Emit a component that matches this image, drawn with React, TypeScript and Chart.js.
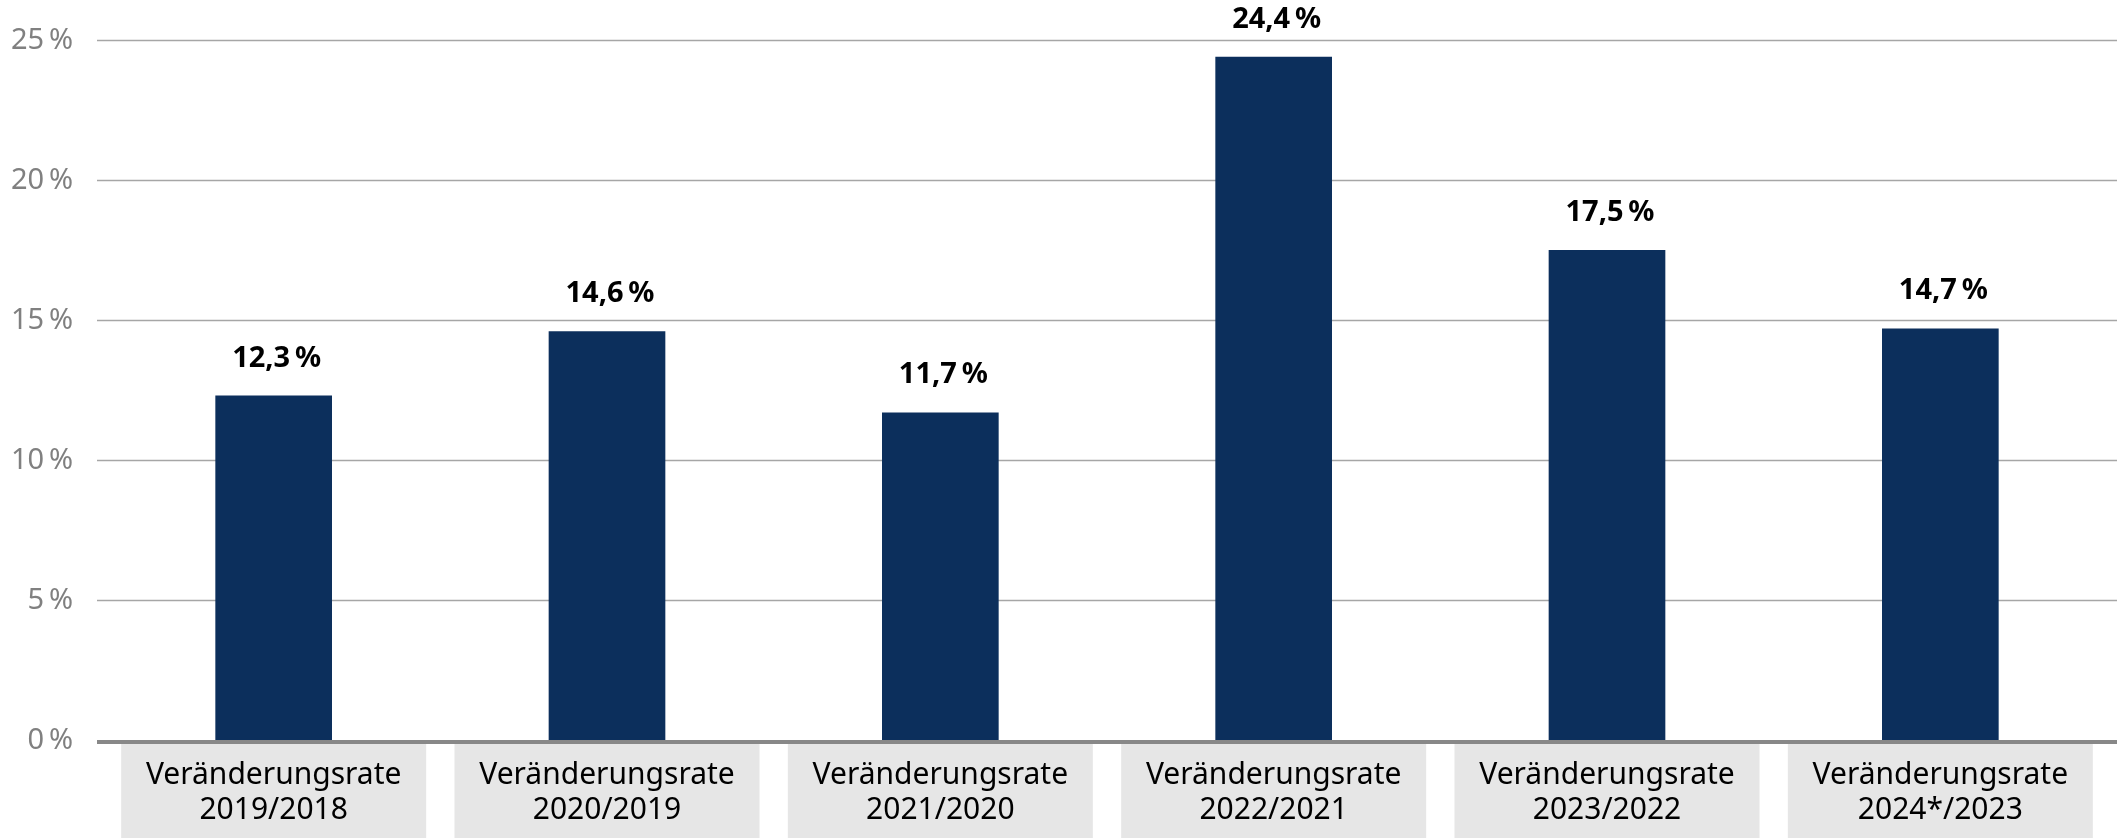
import React, { useEffect, useRef } from "react";
import { Chart, registerables } from "chart.js";

Chart.register(...registerables);

const categoriesLine1 = ["Veränderungsrate", "Veränderungsrate", "Veränderungsrate", "Veränderungsrate", "Veränderungsrate", "Veränderungsrate"];
const categoriesLine2 = ["2019/2018", "2020/2019", "2021/2020", "2022/2021", "2023/2022", "2024*/2023"];
const values = [12.3, 14.6, 11.7, 24.4, 17.5, 14.7];
const yTicks = [0, 5, 10, 15, 20, 25];

const FONT = "'Noto Sans', 'Open Sans', sans-serif";
const fmt = (v: number) => v.toFixed(1).replace(".", ",") + "\u2009%";

const customPlugin = {
  id: "custom",
  beforeDatasetsDraw(chart: any) {
    const { ctx, chartArea, scales } = chart;
    const y = scales.y;
    ctx.save();
    ctx.strokeStyle = "#a6a6a6";
    ctx.lineWidth = 1.5;
    yTicks.forEach((t) => {
      const py = y.getPixelForValue(t);
      if (t !== 0) {
        const ly = Math.round(py) + 0.5;
        ctx.beginPath();
        ctx.moveTo(chartArea.left - 10, ly);
        ctx.lineTo(chartArea.right + 10, ly);
        ctx.stroke();
      }
      ctx.fillStyle = "#808080";
      ctx.font = `29px ${FONT}`;
      ctx.textAlign = "right";
      ctx.textBaseline = "middle";
      ctx.fillText(`${t}\u2009%`, 73, py + 1);
    });
    ctx.restore();
  },
  afterDatasetsDraw(chart: any) {
    const { ctx, chartArea, scales } = chart;
    const x = scales.x;
    const y = scales.y;
    ctx.save();
    // axis line
    const py0 = y.getPixelForValue(0);
    ctx.strokeStyle = "#888888";
    ctx.lineWidth = 4;
    ctx.beginPath();
    ctx.moveTo(chartArea.left - 10, py0 + 2);
    ctx.lineTo(chartArea.right + 10, py0 + 2);
    ctx.stroke();
    // category boxes and labels
    const step = x.getPixelForValue(1) - x.getPixelForValue(0);
    const boxW = step * 0.915;
    categoriesLine2.forEach((_, i) => {
      const cx = x.getPixelForValue(i);
      ctx.fillStyle = "#e6e6e6";
      ctx.fillRect(cx - boxW / 2, py0 + 4, boxW, chart.height - (py0 + 4));
      ctx.fillStyle = "#000000";
      ctx.font = `30px ${FONT}`;
      ctx.textAlign = "center";
      ctx.textBaseline = "alphabetic";
      ctx.fillText(categoriesLine1[i], cx, py0 + 44);
      ctx.fillText(categoriesLine2[i], cx, py0 + 79);
    });
    // value labels
    ctx.font = `bold 29px ${FONT}`;
    ctx.fillStyle = "#000000";
    ctx.textAlign = "center";
    ctx.textBaseline = "alphabetic";
    values.forEach((v, i) => {
      const cx = x.getPixelForValue(i);
      const top = y.getPixelForValue(v);
      ctx.fillText(fmt(v), cx + 3, top - 29);
    });
    ctx.restore();
  },
};

export default function App() {
  const ref = useRef<HTMLCanvasElement | null>(null);
  useEffect(() => {
    if (!ref.current) return;
    const chart = new Chart(ref.current, {
      type: "bar",
      data: {
        labels: categoriesLine2,
        datasets: [
          {
            data: values,
            backgroundColor: "#0c2f5c",
            barPercentage: 0.35,
            categoryPercentage: 1,
          },
        ],
      },
      options: {
        responsive: false,
        animation: false,
        layout: { padding: { top: 40, bottom: 98, right: 15, left: 107 } },
        plugins: { legend: { display: false }, tooltip: { enabled: false } },
        scales: {
          x: {
            display: false,
          },
          y: {
            display: false,
            min: 0,
            max: 25,
          },
        },
      },
      plugins: [customPlugin],
    });
    return () => chart.destroy();
  }, []);
  return (
    <div style={{ position: "fixed", left: 0, top: 0, width: 2122, height: 838, background: "#fff" }}>
      <canvas ref={ref} width={2122} height={838} style={{ width: 2122, height: 838, display: "block" }} />
    </div>
  );
}
